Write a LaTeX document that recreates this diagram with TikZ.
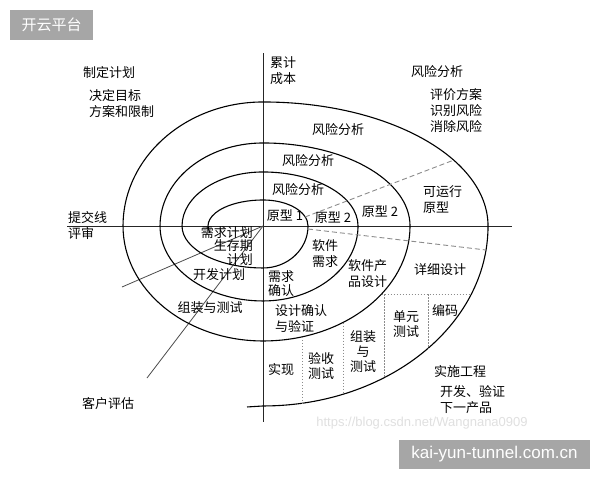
\documentclass[tikz,border=0pt]{standalone}
\usepackage{fontspec}
\setmainfont{Noto Sans CJK SC}
\newfontfamily\latinsans{Liberation Sans}
\begin{document}
\begin{tikzpicture}[x=1pt,y=-1pt,
  spiral/.style={line width=1.1pt, black, line join=round},
  axis/.style={line width=0.9pt, black!85},
  lbl/.style={inner sep=0pt, font=\fontsize{13}{16}\selectfont, align=left},
  dashline/.style={black!45, dash pattern=on 5pt off 3pt, line width=0.9pt},
  dotline/.style={black!45, dash pattern=on 1.5pt off 1.5pt, line width=0.9pt},
  evalline/.style={black!70, line width=0.8pt},
  wmbox/.style={fill=black!35, draw=none, text=white, inner sep=0pt}]
\useasboundingbox[fill=white] (0,0) rectangle (600,480);

% axes
\coordinate (vt) at (263,53); \coordinate (vb) at (263,422);
\coordinate (hl) at (67,226); \coordinate (hr) at (512,226);
\draw[axis] (vt) -- (vb);
\draw[axis] (hl) -- (hr);

% customer evaluation lines
\coordinate (ctr) at (263,226);
\coordinate (e1) at (122,287);
\coordinate (e2) at (147,378);
\draw[evalline] (ctr) -- (e1);
\draw[evalline] (ctr) -- (e2);

% spiral
\coordinate (s0) at (209.9,232.7);
\draw[spiral] (s0)
  arc[start angle=165,end angle=270,x radius=55,y radius=26]
  arc[start angle=270,end angle=360,x radius=45,y radius=26]
  arc[start angle=0,end angle=90,x radius=45,y radius=42]
  arc[start angle=90,end angle=180,x radius=81,y radius=42]
  arc[start angle=180,end angle=270,x radius=81,y radius=54]
  arc[start angle=270,end angle=360,x radius=95,y radius=54]
  arc[start angle=0,end angle=90,x radius=95,y radius=75]
  arc[start angle=90,end angle=180,x radius=103,y radius=75]
  arc[start angle=180,end angle=270,x radius=103,y radius=83]
  arc[start angle=270,end angle=360,x radius=147,y radius=83]
  arc[start angle=0,end angle=90,x radius=147,y radius=115]
  arc[start angle=90,end angle=180,x radius=140,y radius=115]
  arc[start angle=180,end angle=270,x radius=140,y radius=124]
  arc[start angle=270,end angle=360,x radius=225,y radius=124]
  arc[start angle=0,end angle=90,x radius=225,y radius=180]
  -- ++(-16,1);

% dashed lines
\coordinate (d1a) at (305,217); \coordinate (d1b) at (454,160);
\coordinate (d2a) at (308,229); \coordinate (d2b) at (486,250);
\draw[dashline] (d1a) -- (d1b);
\draw[dashline] (d2a) -- (d2b);

% dotted separators
\coordinate (h1a) at (381.5,294); \coordinate (h1b) at (471.3,294);
\coordinate (v1a) at (384,294);   \coordinate (v1b) at (384,377.7);
\coordinate (v2a) at (428,294);   \coordinate (v2b) at (428,348.4);
\coordinate (v3a) at (343,322.5); \coordinate (v3b) at (343,394.3);
\coordinate (v4a) at (302,336.9); \coordinate (v4b) at (302,403.3);
\draw[dotline] (h1a) -- (h1b);
\draw[dotline] (v1a) -- (v1b);
\draw[dotline] (v2a) -- (v2b);
\draw[dotline] (v3a) -- (v3b);
\draw[dotline] (v4a) -- (v4b);

% labels
\node[lbl, anchor=west] (t1) at (270,71) {累计\\成本};
\node[lbl] (t2) at (109,73) {制定计划};
\node[lbl, anchor=west] (t3) at (89,104) {决定目标\\方案和限制};
\node[lbl] (t4) at (437,72) {风险分析};
\node[lbl, anchor=west] (t5) at (430,110.5) {评价方案\\识别风险\\消除风险};
\node[lbl] (t6) at (338,130) {风险分析};
\node[lbl] (t7) at (308,161) {风险分析};
\node[lbl] (t8) at (298,190) {风险分析};
\node[lbl] (t9) at (285,216) {原型 1};
\node[lbl] (t10) at (333,218) {原型 2};
\node[lbl] (t11) at (380,212) {原型 2};
\node[lbl, anchor=west] (t12) at (423,200) {可运行\\原型};
\node[lbl, anchor=west] (t13) at (68,225.5) {提交线\\评审};
\node[lbl, anchor=east, align=right, font=\fontsize{13}{13.5}\selectfont] (t14) at (253,246) {需求计划\\生存期\\计划};
\node[lbl] (t15) at (219,275) {开发计划};
\node[lbl] (t16) at (210,308) {组装与测试};
\node[lbl] (t17) at (108,404) {客户评估};
\node[lbl, anchor=west, font=\fontsize{13}{13.5}\selectfont] (t18) at (268,283.5) {需求\\确认};
\node[lbl, anchor=west] (t19) at (312,253.5) {软件\\需求};
\node[lbl, anchor=west] (t20) at (348,273.5) {软件产\\品设计};
\node[lbl] (t21) at (440,270) {详细设计};
\node[lbl, anchor=west] (t22) at (275,318.5) {设计确认\\与验证};
\node[lbl] (t23) at (281,370) {实现};
\node[lbl, anchor=west, font=\fontsize{13}{15}\selectfont] (t24) at (308,365.5) {验收\\测试};
\node[lbl, align=center, font=\fontsize{13}{15}\selectfont] (t25) at (363,352) {组装\\与\\测试};
\node[lbl, anchor=west, font=\fontsize{13}{15}\selectfont] (t26) at (393,324.5) {单元\\测试};
\node[lbl] (t27) at (445,310) {编码};
\node[lbl] (t28) at (460,372) {实施工程};
\node[lbl, anchor=west] (t29) at (440,400) {开发、验证\\下一产品};

% watermarks
\node[font=\latinsans\fontsize{13}{13}\selectfont, text=black!12, inner sep=0pt] (csdn) at (422,423) {https://blog.csdn.net/Wangnana0909};
\node[wmbox, minimum width=83pt, minimum height=30pt, font=\fontsize{15}{15}\selectfont] (wm1) at (51.5,25) {开云平台};
\node[wmbox, minimum width=191pt, minimum height=29pt, font=\latinsans\fontsize{17}{17}\selectfont] (wm2) at (494.5,454.5) {kai-yun-tunnel.com.cn};
\end{tikzpicture}
\end{document}
